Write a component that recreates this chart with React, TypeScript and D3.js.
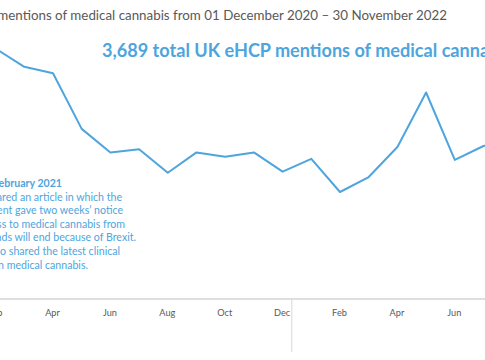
import React from "react";
import * as d3 from "d3";

const months = ["Dec","Jan","Feb","Mar","Apr","May","Jun","Jul","Aug","Sep","Oct","Nov","Dec","Jan","Feb","Mar","Apr","May","Jun","Jul","Aug","Sep","Oct","Nov"];
const years = ["2020","2021","2021","2021","2021","2021","2021","2021","2021","2021","2021","2021","2021","2022","2022","2022","2022","2022","2022","2022","2022","2022","2022","2022"];
const mentions = [190,230,234,217,211,159,137,140,118,137,133,137,119,131,100,114,142,193,130,143,150,145,140,139];
const yearLabels = ["2021","2022"];
const titleText = "Monthly UK eHCP mentions of medical cannabis from 01 December 2020 – 30 November 2022";
const headline = "3,689 total UK eHCP mentions of medical cannabis";
const noteLines = [
  "Mid-February 2021",
  "eHCPs shared an article in which the",
  "government gave two weeks’ notice",
  "that access to medical cannabis from",
  "the Netherlands will end because of Brexit.",
  "They also shared the latest clinical",
  "guidance on medical cannabis.",
];
const noteEnds = [62, 122, 123, 125, 136, 120, 88];

const W = 485, H = 360;
const BLUE = "#4ea5dd";
const FONT = "Lato, 'Open Sans', sans-serif";

export default function App() {
  const x = d3.scaleLinear().domain([0, months.length - 1]).range([-61.8, -61.8 + 23 * 28.7]);
  const y = d3.scaleLinear().domain([0, 250]).range([299, 31.5]);
  const step = x(1) - x(0);
  const line = d3.line<number>().x((_, i) => x(i)).y(d => y(d));
  const yearStarts = years.map((yr, i) => (i > 0 && yr !== years[i - 1] ? i : -1)).filter(i => i >= 0);

  return (
    <svg width={W} height={H} style={{ position: "absolute", left: 0, top: 0, background: "#fff" }} fontFamily={FONT}>
      <text x={447} y={20} textAnchor="end" fontSize={13.35} fill="#595959">{titleText}</text>
      <text x={102} y={57} fontSize={18.1} fontWeight="bold" fill={BLUE}>{headline}</text>
      <line x1={0} x2={W} y1={y(0)} y2={y(0)} stroke="#bfbfbf" strokeWidth={1.2} />
      {months.map((m, i) => i % 2 === 0 ? (
        <text key={i} x={x(i) - 0.5} y={316} textAnchor="middle" fontSize={9.2} fill="#595959">{m}</text>
      ) : null)}
      {yearStarts.map((i, k) => {
        const sx = x(i - 1) + step * 0.32;
        return (
          <g key={k}>
            <line x1={sx} x2={sx} y1={y(0)} y2={352} stroke="#d9d9d9" strokeWidth={1} />
            <text x={sx + 10} y={336.5} fontSize={9} fill="#595959">{yearLabels[k + 1]}</text>
          </g>
        );
      })}
      <path d={line(mentions) || ""} fill="none" stroke={BLUE} strokeWidth={2} strokeLinejoin="round" />
      {noteLines.map((t, i) => (
        <text key={i} x={noteEnds[i]} y={187 + i * 13.6} textAnchor="end" fontSize={10.6} fontWeight={i === 0 ? "bold" : "normal"} fill={BLUE}>{t}</text>
      ))}
    </svg>
  );
}
